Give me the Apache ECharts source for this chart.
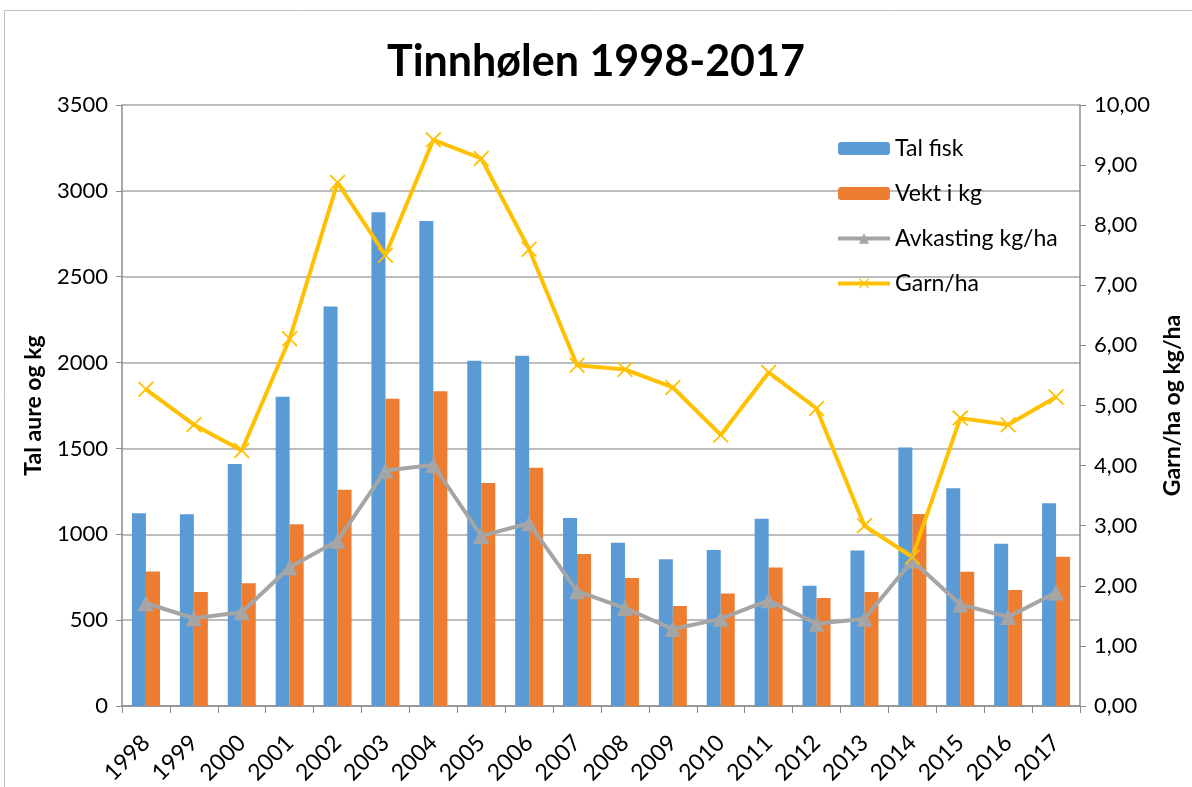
<!DOCTYPE html>
<html><head><meta charset="utf-8">
<script src="https://cdn.jsdelivr.net/npm/echarts@6/dist/echarts.min.js"></script>
<style>html,body{margin:0;padding:0;background:#fff}#c{width:1192px;height:787px}</style>
</head><body><div id="c"></div>
<script>
const years = ['1998','1999','2000','2001','2002','2003','2004','2005','2006','2007','2008','2009','2010','2011','2012','2013','2014','2015','2016','2017'];
const talFisk = [1123,1116,1409,1801,2326,2875,2824,2010,2040,1095,950,855,908,1091,701,906,1506,1268,945,1181];
const vektKg = [784,664,715,1058,1259,1789,1833,1298,1388,885,745,583,655,807,629,664,1118,782,676,869];
const avkasting = [1.71,1.46,1.56,2.31,2.75,3.92,4.01,2.83,3.04,1.91,1.63,1.28,1.45,1.76,1.37,1.45,2.42,1.69,1.48,1.89];
const garnHa = [5.27,4.68,4.25,6.11,8.71,7.50,9.42,9.11,7.60,5.67,5.60,5.30,4.51,5.55,4.95,3.00,2.48,4.79,4.68,5.14];

const FONT = 'Lato';
const xSym = 'path://M0,0.8L0.8,0L5,4.2L9.2,0L10,0.8L5.8,5L10,9.2L9.2,10L5,5.8L0.8,10L0,9.2L4.2,5Z';
const chart = echarts.init(document.getElementById('c'), null, {renderer:'canvas'});
chart.setOption({
  animation:false,
  textStyle:{fontFamily:FONT},
  title:{text:'Tinnhølen 1998-2017', left:'center', top:36,
    textStyle:{fontFamily:FONT, fontSize:43, fontWeight:'bold', color:'#000'}},
  graphic:[{type:'rect', shape:{x:4.5,y:10.5,width:1200,height:800}, style:{fill:'none', stroke:'#c0c0c0', lineWidth:1}}],
  legend:{orient:'vertical', left:836, top:137, padding:0, itemWidth:52, itemHeight:13, itemGap:22,
    textStyle:{fontFamily:FONT, fontSize:23, color:'#000'},
    lineStyle:{width:4},
    data:['Tal fisk','Vekt i kg','Avkasting kg/ha','Garn/ha']},
  grid:{left:122, right:102, top:105, bottom:81, containLabel:false},
  xAxis:{type:'category', data:years,
    axisLine:{lineStyle:{color:'#8c8c8c', width:1.5}},
    axisTick:{show:true, length:7, lineStyle:{color:'#8c8c8c'}},
    axisLabel:{rotate:45, fontSize:23, color:'#000', margin:33, fontFamily:FONT}},
  yAxis:[
    {type:'value', min:0, max:3500, interval:500,
      name:'Tal aure og kg', nameLocation:'middle', nameGap:77, nameRotate:90,
      nameTextStyle:{fontSize:23, fontWeight:'bold', color:'#000', fontFamily:FONT},
      axisLine:{show:true, lineStyle:{color:'#8c8c8c', width:1.5}},
      axisTick:{show:true, length:6, lineStyle:{color:'#8c8c8c'}},
      axisLabel:{fontSize:22, color:'#000', margin:14, fontFamily:FONT, formatter:v=>String(v)},
      splitLine:{lineStyle:{color:'#a6a6a6', width:1.5}}},
    {type:'value', min:0, max:10, interval:1,
      name:'Garn/ha og kg/ha', nameLocation:'middle', nameGap:81, nameRotate:90,
      nameTextStyle:{fontSize:23, fontWeight:'bold', color:'#000', fontFamily:FONT},
      axisLine:{show:true, lineStyle:{color:'#8c8c8c', width:1.5}},
      axisTick:{show:true, length:6, lineStyle:{color:'#8c8c8c'}},
      axisLabel:{fontSize:22, color:'#000', margin:14, fontFamily:FONT,
        formatter:v=>v.toFixed(2).replace('.',',')},
      splitLine:{show:false}}
  ],
  series:[
    {name:'Tal fisk', type:'bar', data:talFisk, barWidth:14, barGap:'0%',
      itemStyle:{color:'#5B9BD5'}},
    {name:'Vekt i kg', type:'bar', data:vektKg, barWidth:14, barGap:'0%',
      itemStyle:{color:'#ED7D31'}},
    {name:'Avkasting kg/ha', type:'line', yAxisIndex:1, data:avkasting,
      symbol:'triangle', symbolSize:16, lineStyle:{color:'#A5A5A5', width:4},
      itemStyle:{color:'#A5A5A5'}},
    {name:'Garn/ha', type:'line', yAxisIndex:1, data:garnHa,
      symbol:xSym, symbolSize:16, lineStyle:{color:'#FFC000', width:4},
      itemStyle:{color:'#FFC000'}}
  ]
});
</script></body></html>
